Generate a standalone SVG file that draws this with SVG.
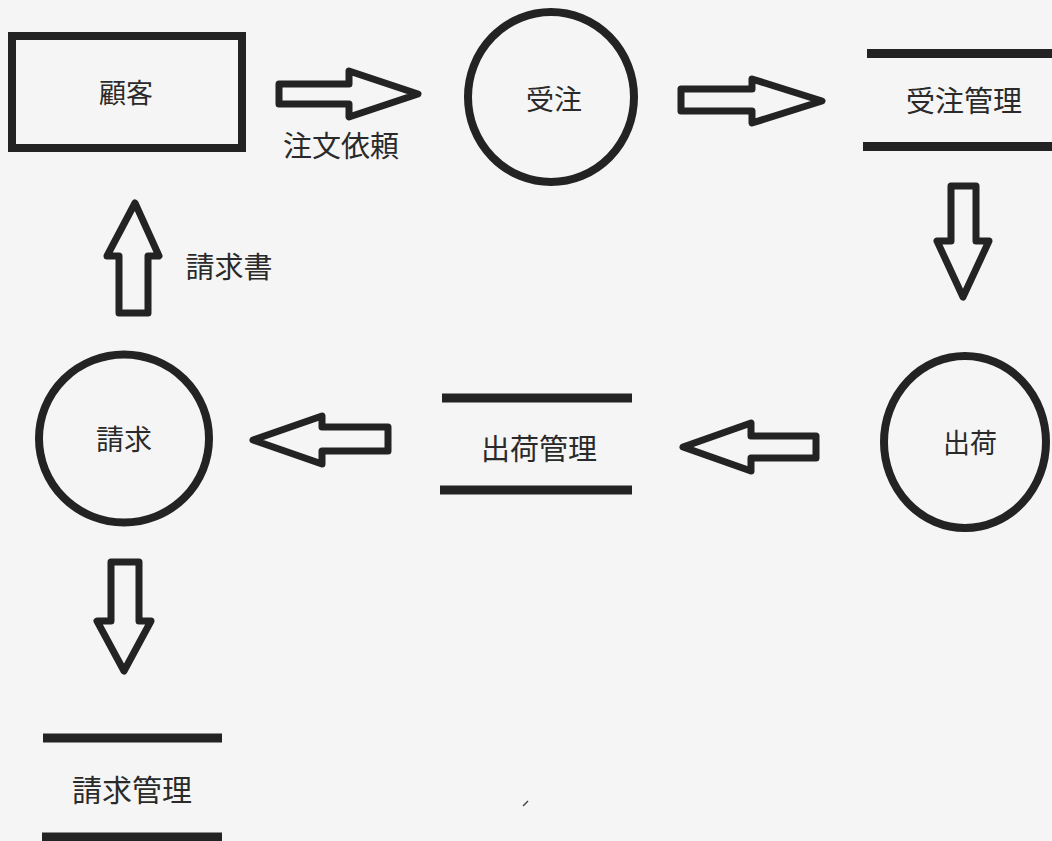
<svg xmlns="http://www.w3.org/2000/svg" width="1052" height="841" viewBox="0 0 1052 841">
  <style>
    .shape { fill: none; stroke: #232323; stroke-width: 8; }
    .bar { stroke: #232323; stroke-width: 9; }
    .arrow { fill: none; stroke: #232323; stroke-width: 7; stroke-linejoin: round; }
    .lbl { font-family: "Noto Sans CJK JP", "Noto Sans CJK SC", sans-serif; fill: #2a2a2a; text-anchor: middle; dominant-baseline: central; }
  </style>
  <rect x="0" y="0" width="1052" height="841" fill="#f5f5f5"/>

  <g id="node-kokyaku">
    <rect class="shape" x="12" y="36" width="230" height="112"/>
    <text class="lbl" x="126" y="91" font-size="27">顧客</text>
  </g>

  <g id="node-juchu">
    <ellipse class="shape" cx="551" cy="97" rx="83" ry="85"/>
    <text class="lbl" x="554" y="98" font-size="28">受注</text>
  </g>

  <g id="node-juchu-kanri">
    <line class="bar" x1="867" y1="53.5" x2="1052" y2="53.5"/>
    <line class="bar" x1="863" y1="146.5" x2="1052" y2="146.5"/>
    <text class="lbl" x="964" y="99" font-size="29">受注管理</text>
  </g>

  <g id="node-shukka">
    <ellipse class="shape" cx="965" cy="442" rx="81" ry="86"/>
    <text class="lbl" x="970" y="441" font-size="27">出荷</text>
  </g>

  <g id="node-shukka-kanri">
    <line class="bar" x1="442" y1="398" x2="632" y2="398"/>
    <line class="bar" x1="440" y1="490" x2="632" y2="490"/>
    <text class="lbl" x="539" y="447" font-size="29">出荷管理</text>
  </g>

  <g id="node-seikyu">
    <ellipse class="shape" cx="124" cy="438.5" rx="85" ry="84"/>
    <text class="lbl" x="124" y="438" font-size="28">請求</text>
  </g>

  <g id="node-seikyu-kanri">
    <line class="bar" x1="43" y1="738" x2="222" y2="738"/>
    <line class="bar" x1="42" y1="837" x2="222" y2="837"/>
    <text class="lbl" x="132" y="788" font-size="30">請求管理</text>
  </g>

  <g id="connectors">
    <polygon class="arrow" points="279,84 349,84 349,71 418,94 349,117 349,104 279,104"/>
    <text class="lbl" x="341" y="144" font-size="29">注文依頼</text>
    <polygon class="arrow" points="681,89 752,89 752,79 822,101 752,123 752,111 681,111"/>
    <polygon class="arrow" points="951,186 976,186 976,241 989,241 963,297 937,241 951,241"/>
    <polygon class="arrow" points="683,447 751,423 751,436 816,436 816,458 751,458 751,471"/>
    <polygon class="arrow" points="253,440 322,416 322,427 388,427 388,451 322,451 322,464"/>
    <polygon class="arrow" points="135,203 159,256 148,256 148,313 119,313 119,256 107,256"/>
    <text class="lbl" x="229" y="265" font-size="29">請求書</text>
    <polygon class="arrow" points="111,562 139,562 139,621 151,621 124,671 97,621 111,621"/>
  </g>

  <line x1="523" y1="806" x2="528" y2="801" stroke="#444" stroke-width="1.5"/>
</svg>
